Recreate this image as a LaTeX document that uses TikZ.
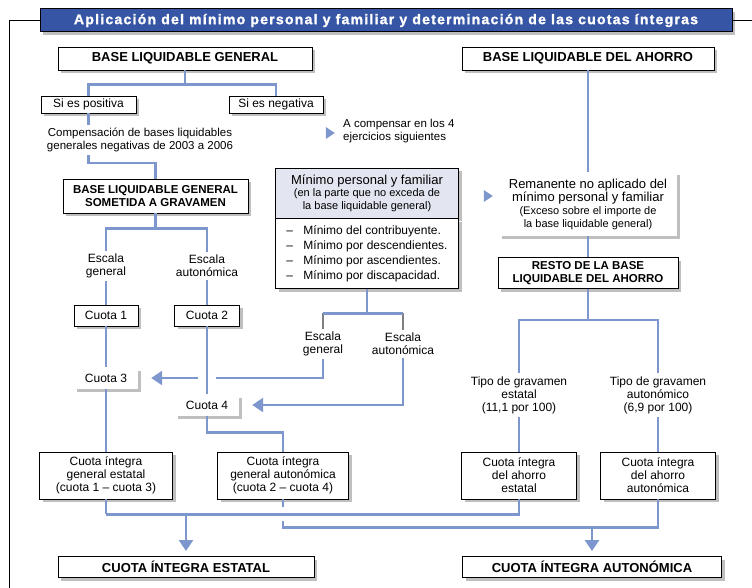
\documentclass[tikz,border=0pt]{standalone}
\usepackage{fontspec}
\setmainfont{Liberation Sans}
\usepackage{tikz}
\usetikzlibrary{arrows.meta,shadows,shapes.geometric}
\definecolor{linkblue}{HTML}{7D96CD}
\definecolor{bannerblue}{HTML}{3656A5}
\definecolor{headgray}{HTML}{E3E6F0}

\begin{document}
\begin{tikzpicture}[x=1pt, y=-1pt, >={Triangle[width=14pt,length=11pt]},
	font=\fontsize{12}{13}\selectfont,
	shade/.style={drop shadow={shadow xshift=3pt, shadow yshift=-3pt, opacity=0.5}},
	box/.style={draw, line width=0.9pt, fill=white, inner sep=2pt, align=center, shade},
	plainbox/.style={fill=white, inner sep=2pt, align=center, shade},
	bigbox/.style={box, font=\fontsize{13}{14}\selectfont\bfseries},
	twobox/.style={box, font=\fontsize{11.5}{13}\selectfont\bfseries},
	txt/.style={align=center, inner sep=3pt},
	link/.style={draw=linkblue, line width=2.6pt},
	stub/.style={draw=black!50, line width=2.6pt},
	gap/.style={draw=white, line width=5pt},
	bullet/.style={isosceles triangle, isosceles triangle stretches, fill=linkblue, inner sep=0pt, minimum width=12pt, minimum height=9pt}]
		\useasboundingbox (0,0) rectangle (752,588);
		% banner and frame
		\node[draw=black, line width=1pt, fill=bannerblue, text=white, minimum width=692pt, minimum height=23pt, inner sep=0pt, shade,
			font=\fontsize{14}{16}\selectfont\bfseries\addfontfeatures{LetterSpace=9,FakeBold=1.5}] (title) at (386,20.5)
			{Aplicación del mínimo personal y familiar y determinación de las cuotas íntegras};
		\draw[line width=1.2pt] (title.west) -- ++(-30,0) -- ++(0,568);
		\draw[line width=1.2pt] (title.east) -- ++(20,0);
		% top boxes
		\node[bigbox, minimum width=254pt, minimum height=23pt] (blg) at (185,58.5) {BASE LIQUIDABLE GENERAL};
		\node[bigbox, minimum width=252pt, minimum height=23pt] (bla) at (588,58.5) {BASE LIQUIDABLE DEL AHORRO};
		\node[box, minimum width=95pt, minimum height=17pt] (pos) at (88.5,104.5) {Si es positiva};
		\node[box, minimum width=94pt, minimum height=17pt] (neg) at (276,104.5) {Si es negativa};
		\node[txt, font=\fontsize{11.5}{12.5}\selectfont] (comp) at (140,140) {Compensación de bases liquidables\\generales negativas de 2003 a 2006};
		\node[bullet] (tri1) at (329,133) {};
		\node[txt, anchor=west, align=left, font=\fontsize{11.5}{12.5}\selectfont] (acomp) at (340,131) {A compensar en los 4\\ejercicios siguientes};
		\node[twobox, minimum width=185pt, minimum height=34pt] (blgs) at (155.5,196) {BASE LIQUIDABLE GENERAL\\SOMETIDA A GRAVAMEN};
		% minimo personal y familiar
		\node[box, fill=headgray, minimum width=183pt, minimum height=50pt, font=\fontsize{11}{12.5}\selectfont] (minhead) at (367,193)
			{\fontsize{13}{14}\selectfont Mínimo personal y familiar\\\fontsize{11}{12.5}\selectfont (en la parte que no exceda de\\\fontsize{11}{12.5}\selectfont la base liquidable general)};
		\node[box, minimum width=183pt, minimum height=70pt, align=left, anchor=north, font=\fontsize{12}{15}\selectfont] (minlist) at (minhead.south)
			{\makebox[17pt][l]{–}Mínimo del contribuyente.\\\makebox[17pt][l]{–}Mínimo por descendientes.\\\makebox[17pt][l]{–}Mínimo por ascendientes.\\\makebox[17pt][l]{–}Mínimo por discapacidad.};
		\node[txt] (escg2) at (323,344) {Escala\\general};
		\node[txt] (esca2) at (403,344) {Escala\\autonómica};
		% left column
		\node[txt] (escg1) at (106,266) {Escala\\general};
		\node[txt] (esca1) at (207,266) {Escala\\autonómica};
		\node[box, minimum width=64pt, minimum height=21pt] (cuota1) at (106,315.5) {Cuota 1};
		\node[box, minimum width=65pt, minimum height=21pt] (cuota2) at (207,315.5) {Cuota 2};
		\node[plainbox, minimum width=64pt, minimum height=21pt] (cuota3) at (106,378) {Cuota 3};
		\node[plainbox, minimum width=64pt, minimum height=21pt] (cuota4) at (207,405) {Cuota 4};
		\node[box, minimum width=133pt, minimum height=47pt] (cige) at (106,475.5) {Cuota íntegra\\general estatal\\(cuota 1 – cuota 3)};
		\node[box, minimum width=131pt, minimum height=47pt] (ciga) at (283,475.5) {Cuota íntegra\\general autonómica\\(cuota 2 – cuota 4)};
		% right column
		\node[bullet] (tri2) at (487,196) {};
		\node[plainbox, minimum width=178pt, minimum height=64pt] (rem) at (588,204)
			{\fontsize{13}{14}\selectfont Remanente no aplicado del\\\fontsize{13}{14}\selectfont mínimo personal y familiar\\\fontsize{11}{12.5}\selectfont (Exceso sobre el importe de\\\fontsize{11}{12.5}\selectfont la base liquidable general)};
		\node[twobox, minimum width=180pt, minimum height=31pt] (resto) at (588,273) {RESTO DE LA BASE\\LIQUIDABLE DEL AHORRO};
		\node[txt] (tipoe) at (519,395) {Tipo de gravamen\\estatal\\(11,1 por 100)};
		\node[txt] (tipoa) at (658,395) {Tipo de gravamen\\autonómico\\(6,9 por 100)};
		\node[box, minimum width=115pt, minimum height=47pt] (ciae) at (519,475.5) {Cuota íntegra\\del ahorro\\estatal};
		\node[box, minimum width=115pt, minimum height=47pt] (ciaa) at (658,475.5) {Cuota íntegra\\del ahorro\\autonómica};
		% results
		\node[bigbox, minimum width=256pt, minimum height=21pt] (cie) at (186,567) {CUOTA ÍNTEGRA ESTATAL};
		\node[bigbox, minimum width=259pt, minimum height=21pt] (cia) at (592,567) {CUOTA ÍNTEGRA AUTONÓMICA};
		% connectors, top
		\draw[link] (blg.south) -- ++(0,14) coordinate (jblg);
		\draw[link] (pos.north) |- (jblg) -| (neg.north);
		\draw[link] (pos.south) -- (pos.south |- comp.north);
		\draw[link] (pos.south |- comp.south) -- ++(0,8) -| (blgs.north);
		% connectors, escalas
		\draw[link] (blgs.south) -- ++(0,15) coordinate (jblgs);
		\draw[link] (escg1.north) |- (jblgs) -| (esca1.north);
		\draw[link] (escg1.south) -- (cuota1.north);
		\draw[link] (esca1.south) -- (cuota2.north);
		\draw[link] (cuota1.south) -- (cuota3.north);
		\draw[link] (cuota3.south) -- (cige.north);
		\draw[link] (minlist.south) -- ++(0,24) coordinate (jmin);
		\draw[stub] (escg2.north) -- (escg2.north |- jmin);
		\draw[stub] (esca2.north) -- (esca2.north |- jmin);
		\draw[link] (escg2.north |- jmin) -- (esca2.north |- jmin);
		\draw[link, ->, shorten >=13pt] (escg2.south) |- (cuota3.east);
		\draw[link, ->, shorten >=13pt] (esca2.south) |- (cuota4.east);
		\coordinate (x1) at (cuota2.south |- cuota3.east);
		\draw[gap] ([xshift=-9pt]x1) -- ([xshift=9pt]x1);
		\draw[link] (cuota2.south) -- (cuota4.north);
		\draw[link] (cuota4.south) -- ++(0,17) -| (ciga.north);
		% connectors, ahorro
		\draw[link] (bla.south) -- (rem.north);
		\draw[link] (rem.south) -- (resto.north);
		\draw[link] (resto.south) -- ++(0,31) coordinate (jresto);
		\draw[link] (tipoe.north) |- (jresto) -| (tipoa.north);
		\draw[link] (tipoe.south) -- (ciae.north);
		\draw[link] (tipoa.south) -- (ciaa.north);
		% connectors, bottom
		\draw[link] (ciga.south) -- ++(0,28) coordinate (jciga) -| (ciaa.south);
		\draw[link] (cige.south) -- ++(0,15) coordinate (jcige);
		\coordinate (x2) at (ciga.south |- jcige);
		\draw[gap] ([yshift=-7pt]x2) -- ([yshift=7pt]x2);
		\draw[link] (jcige) -| (ciae.south);
		\coordinate (jarr1) at (cie.north |- jcige);
		\coordinate (jarr2) at (cia.north |- jciga);
		\draw[link, ->, shorten >=5pt] (jarr1) -- (cie.north);
		\draw[link, ->, shorten >=5pt] (jarr2) -- (cia.north);
	\end{tikzpicture}
\end{document}
